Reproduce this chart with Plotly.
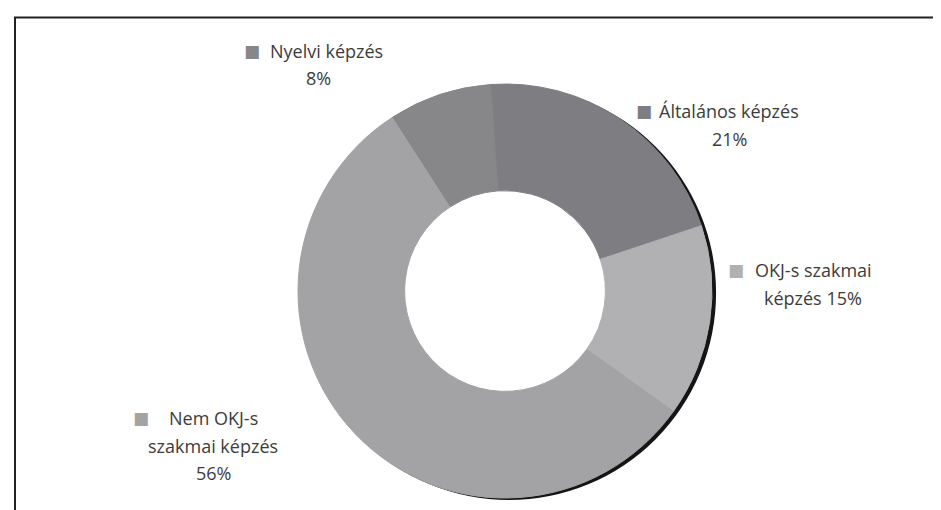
import plotly.graph_objects as go

# adatok
kategoriak = ["Általános képzés", "OKJ-s szakmai képzés", "Nem OKJ-s szakmai képzés", "Nyelvi képzés"]
ertekek = [21, 15, 56, 8]
szinek = ["#7e7e82", "#b1b1b4", "#a3a3a6", "#87878a"]
cimke_sorok = [
    ["Általános képzés", "21%"],
    ["OKJ-s szakmai", "képzés 15%"],
    ["Nem OKJ-s", "szakmai képzés", "56%"],
    ["Nyelvi képzés", "8%"],
]

W, H = 941, 510
cx, cy, R = 497, 283, 207
hole = 0.485
dx, dy = 4, 2


def dom(ox, oy):
    return dict(x=[(cx - R + ox) / W, (cx + R + ox) / W],
                y=[(H - cy - R - oy) / H, (H - cy + R - oy) / H])


fig = go.Figure()
# arnyek - egy teljes gyuru
fig.add_trace(go.Pie(values=[sum(ertekek)], labels=["arnyek"], domain=dom(dx, dy),
                     hole=hole + 5 / R, sort=False,
                     marker=dict(colors=["#151515"], line=dict(width=0)),
                     textinfo="none", hoverinfo="skip", showlegend=False))
fig.add_trace(go.Pie(values=ertekek, labels=kategoriak, domain=dom(0, 0),
                     hole=hole, sort=False, direction="clockwise", rotation=-4,
                     marker=dict(colors=szinek, line=dict(width=1, color=szinek)),
                     textinfo="none", showlegend=False))

# cimkek (x kozep, elso sor y)
pozik = [(721, 103), (805, 262), (205, 410), (318, 43)]
negyzet_x = [636, 728, 133, 244]
sor_tav = 27.5
for i, sorok in enumerate(cimke_sorok):
    x0, y0 = pozik[i]
    for j, s in enumerate(sorok):
        xx = x0 - 8 if (i == 3 and j == 1) else x0
        fig.add_annotation(x=xx / W, y=1 - (y0 + j * sor_tav) / H, xref="paper", yref="paper",
                           text=s, showarrow=False, xanchor="center", yanchor="middle",
                           font=dict(size=18, color="#3c3c3c", family="Open Sans"))
    fig.add_annotation(x=negyzet_x[i] / W, y=1 - y0 / H, xref="paper", yref="paper",
                       text="■", showarrow=False, xanchor="center", yanchor="middle",
                       font=dict(size=17, color=szinek[i], family="DejaVu Sans"))

# keret
fig.add_shape(type="rect", xref="paper", yref="paper", x0=7 / W, x1=1.05,
              y0=-0.05, y1=1 - 9.5 / H, line=dict(color="#222222", width=2))

fig.update_layout(width=W, height=H, margin=dict(l=0, r=0, t=0, b=0),
                  paper_bgcolor="white", plot_bgcolor="white")
fig.write_html("out.html")
